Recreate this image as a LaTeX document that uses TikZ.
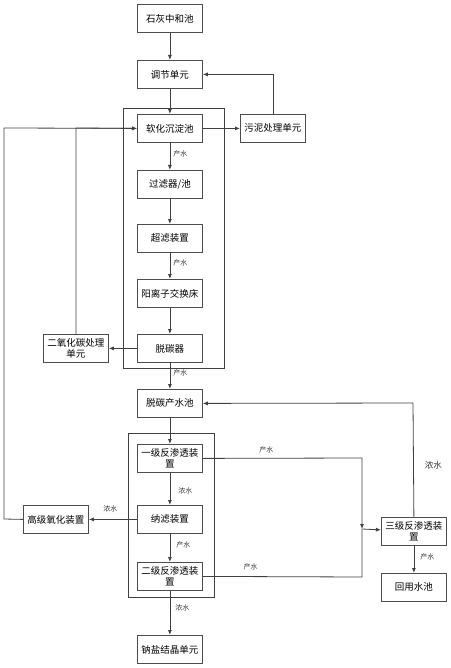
\documentclass[tikz,border=0pt]{standalone}
\usepackage{fontspec}
\newfontfamily\cjk{Noto Sans CJK SC}
\usetikzlibrary{arrows.meta}
\begin{document}
\begin{tikzpicture}[x=1pt,y=-1pt,
  box/.style={draw=black!70,line width=0.8pt,fill=white,minimum width=65pt,minimum height=28pt,inner sep=1pt,font=\cjk\fontsize{9.5}{10.5}\selectfont,align=center,anchor=north west},
  ln/.style={draw=black!75,line width=0.8pt},
  arr/.style={ln,-{Latex[length=5pt,width=4pt]}},
  lab/.style={font=\cjk\fontsize{7}{7.5}\selectfont,text=black!80,inner sep=0pt},
  cont/.style={draw=black!75,line width=0.8pt}]
\useasboundingbox (0,0) rectangle (450,668);
\draw[cont] (123,108) rectangle (224,368);
\draw[cont] (128,433) rectangle (214,597);
\node[box,text width=63pt] (shh) at (137,4) {石灰中和池};
\node[box] (tj) at (137,60) {调节单元};
\node[box] (rh) at (137,114) {软化沉淀池};
\node[box] (wn) at (240,114) {污泥处理单元};
\node[box] (gl) at (137,170) {过滤器/池};
\node[box] (cl) at (137,224) {超滤装置};
\node[box] (yl) at (137,279) {阳离子交换床};
\node[box] (tt) at (137,334) {脱碳器};
\node[box,text width=63pt] (co) at (43,334) {二氧化碳处理\\单元};
\node[box] (tc) at (137,389) {脱碳产水池};
\node[box,text width=63pt] (r1) at (137,444) {一级反渗透装\\置};
\node[box] (nl) at (137,505) {纳滤装置};
\node[box] (gj) at (23,505) {高级氧化装置};
\node[box,text width=63pt] (r2) at (137,562) {二级反渗透装\\置};
\node[box] (ny) at (137,635) {钠盐结晶单元};
\node[box,text width=63pt] (r3) at (381,517) {三级反渗透装\\置};
\node[box] (hy) at (381,573) {回用水池};
\coordinate (jn) at (362,529);
% main chain
\draw[arr] (shh) -- (tj);
\draw[arr] (tj) -- (rh);
\draw[arr] (rh) -- (wn);
\draw[arr] (wn.north) |- (tj.east);
\draw[arr] (rh) -- node[lab,right=3pt,pos=0.4]{产水} (gl);
\draw[arr] (gl) -- (cl);
\draw[arr] (cl) -- node[lab,right=3pt,pos=0.4]{产水} (yl);
\draw[arr] (yl) -- (tt);
\draw[arr] (tt) -- (co);
\draw[arr] (co.north -| 76,0) -- (76,128) -- (rh.west);
\draw[arr] (tt) -- node[lab,right=3pt,pos=0.4]{产水} (tc);
\draw[arr] (tc) -- (r1);
\draw[arr] (r1) -- node[lab,right=8pt,pos=0.55]{浓水} (nl);
\draw[arr] (nl) -- node[lab,above=7pt,pos=0.55]{浓水} (gj);
\draw[arr] (gj.west) -- (4,519) -- (4,128) -- (rh.west);
\draw[arr] (nl) -- node[lab,right=6pt,pos=0.4]{产水} (r2);
\draw[arr] (r2) -- node[lab,right=5pt,pos=0.39]{浓水} (ny);
\draw[arr] (r1.east) -- node[lab,above=5pt,pos=0.4]{产水} (362,458) -- (jn);
\draw[ln] (r2.east) -- node[lab,above=6pt,pos=0.3]{产水} (362,577) -- (jn);
\draw[arr] (jn) -- (r3);
\draw[arr] (r3) -- node[lab,right=6pt,pos=0.4]{产水} (hy);
\draw[arr] (r3.north) -- node[lab,font=\cjk\fontsize{8.5}{9}\selectfont,right=11pt,pos=0.45]{浓水} (413,403) -- (tc.east);
\end{tikzpicture}
\end{document}
